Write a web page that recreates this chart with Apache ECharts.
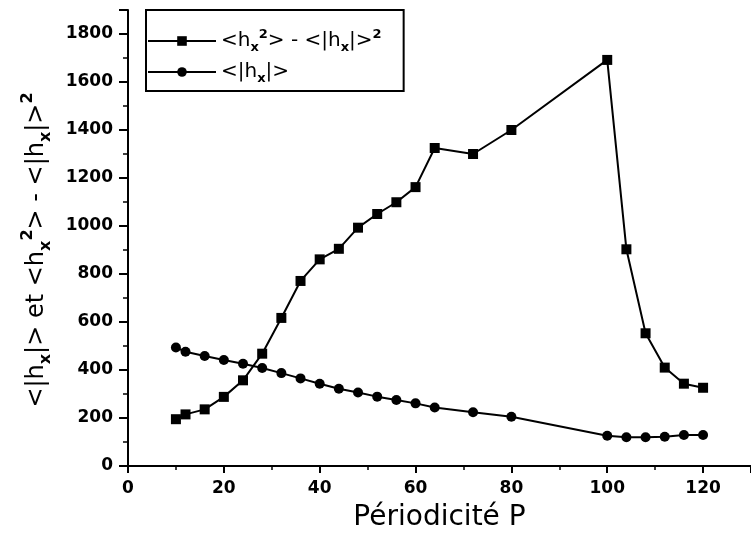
<!DOCTYPE html>
<html>
<head>
<meta charset="utf-8">
<script src="https://cdn.jsdelivr.net/npm/echarts@6/dist/echarts.min.js"></script>
<style>
  html, body { margin: 0; padding: 0; background: #fff; }
  #chart { width: 751px; height: 538px; }
</style>
</head>
<body>
<div id="chart"></div>
<script>
// Périodicité P (abscissa)
const periods = [10, 12, 16, 20, 24, 28, 32, 36, 40, 44, 48, 52, 56, 60, 64, 72, 80, 100, 104, 108, 112, 116, 120];
// <h_x^2> - <|h_x|>^2
const variance = [195, 215, 236, 288, 357, 468, 617, 771, 861, 905, 993, 1050, 1099, 1162, 1325, 1300, 1400, 1692, 903, 553, 410, 343, 326];
// <|h_x|>
const meanAbs = [494, 476, 458, 442, 426, 408, 387, 365, 343, 322, 306, 289, 275, 261, 244, 224, 205, 126, 120, 120, 122, 129, 129];

const xTicks = [0, 20, 40, 60, 80, 100, 120];
const yTicks = [0, 200, 400, 600, 800, 1000, 1200, 1400, 1600, 1800];

const FONT = 'DejaVu Sans';

// Rich-text styles: s = subscript, p = superscript
function richFor(subSize, subLH, supLH, weight) {
  return {
    s: { fontFamily: FONT, fontSize: subSize, fontWeight: weight, color: '#000', verticalAlign: 'bottom', lineHeight: subLH },
    p: { fontFamily: FONT, fontSize: subSize, fontWeight: weight, color: '#000', verticalAlign: 'top', lineHeight: supLH }
  };
}

const legendLabels = {
  'var': '<h{s|x}{p|2}> - <|h{s|x}|>{p|2}',
  'mean': '<|h{s|x}|>'
};

const chart = echarts.init(document.getElementById('chart'), null, { renderer: 'canvas' });

const xs = (arr) => periods.map((p, i) => [p, arr[i]]);

chart.setOption({
  animation: false,
  backgroundColor: '#fff',
  grid: { left: 128, top: 10, bottom: 72, right: -4, containLabel: false },
  legend: {
    orient: 'vertical',
    left: 146,
    top: 10,
    itemWidth: 68,
    itemHeight: 12,
    itemGap: 5,
    padding: [18, 22, 6, 1],
    borderColor: '#000',
    borderWidth: 2,
    selectedMode: false,
    data: ['var', 'mean'],
    formatter: (name) => legendLabels[name],
    textStyle: {
      fontFamily: FONT, fontSize: 20, color: '#000', lineHeight: 26,
      rich: richFor(13, 12, 15, 'bold')
    }
  },
  xAxis: {
    type: 'value',
    min: 0,
    max: 130,
    interval: 20,
    name: 'Périodicité P',
    nameLocation: 'middle',
    nameGap: 38,
    nameTextStyle: { fontFamily: FONT, fontSize: 28, color: '#000' },
    axisLine: { show: true, onZero: false, lineStyle: { color: '#000', width: 2 } },
    axisTick: { show: true, inside: false, length: 7, lineStyle: { color: '#000', width: 2 } },
    minorTick: { show: true, splitNumber: 2, length: 4, lineStyle: { color: '#000', width: 1.5 } },
    splitLine: { show: false },
    axisLabel: {
      margin: 14, fontFamily: FONT, fontSize: 17, fontWeight: 'bold', color: '#000',
      showMaxLabel: false,
      formatter: (v) => xTicks.includes(v) ? String(v) : ''
    }
  },
  yAxis: {
    type: 'value',
    min: 0,
    max: 1900,
    interval: 200,
    name: '<|h{s|x}|> et <h{s|x}{p|2}> - <|h{s|x}|>{p|2}',
    nameLocation: 'middle',
    nameRotate: 90,
    nameGap: 74,
    nameTextStyle: {
      fontFamily: FONT, fontSize: 24, color: '#000', lineHeight: 34,
      padding: [0, 24, 0, 0],
      rich: richFor(16, 18, 22, 'bold')
    },
    axisLine: { show: true, onZero: false, lineStyle: { color: '#000', width: 2 } },
    axisTick: { show: true, inside: false, length: 9, lineStyle: { color: '#000', width: 2 } },
    minorTick: { show: true, splitNumber: 2, length: 5, lineStyle: { color: '#000', width: 1.5 } },
    splitLine: { show: false },
    axisLabel: {
      margin: 15, fontFamily: FONT, fontSize: 17, fontWeight: 'bold', color: '#000',
      showMaxLabel: false,
      formatter: (v) => yTicks.includes(v) ? String(v) : ''
    }
  },
  series: [
    {
      name: 'var',
      type: 'line',
      data: xs(variance),
      symbol: 'rect',
      symbolSize: 10,
      showAllSymbol: true,
      lineStyle: { color: '#000', width: 2 },
      itemStyle: { color: '#000' },
      emphasis: { disabled: true },
      z: 3
    },
    {
      name: 'mean',
      type: 'line',
      data: xs(meanAbs),
      symbol: 'circle',
      symbolSize: 10,
      showAllSymbol: true,
      lineStyle: { color: '#000', width: 2 },
      itemStyle: { color: '#000' },
      emphasis: { disabled: true },
      z: 2
    }
  ]
});
</script>
</body>
</html>
